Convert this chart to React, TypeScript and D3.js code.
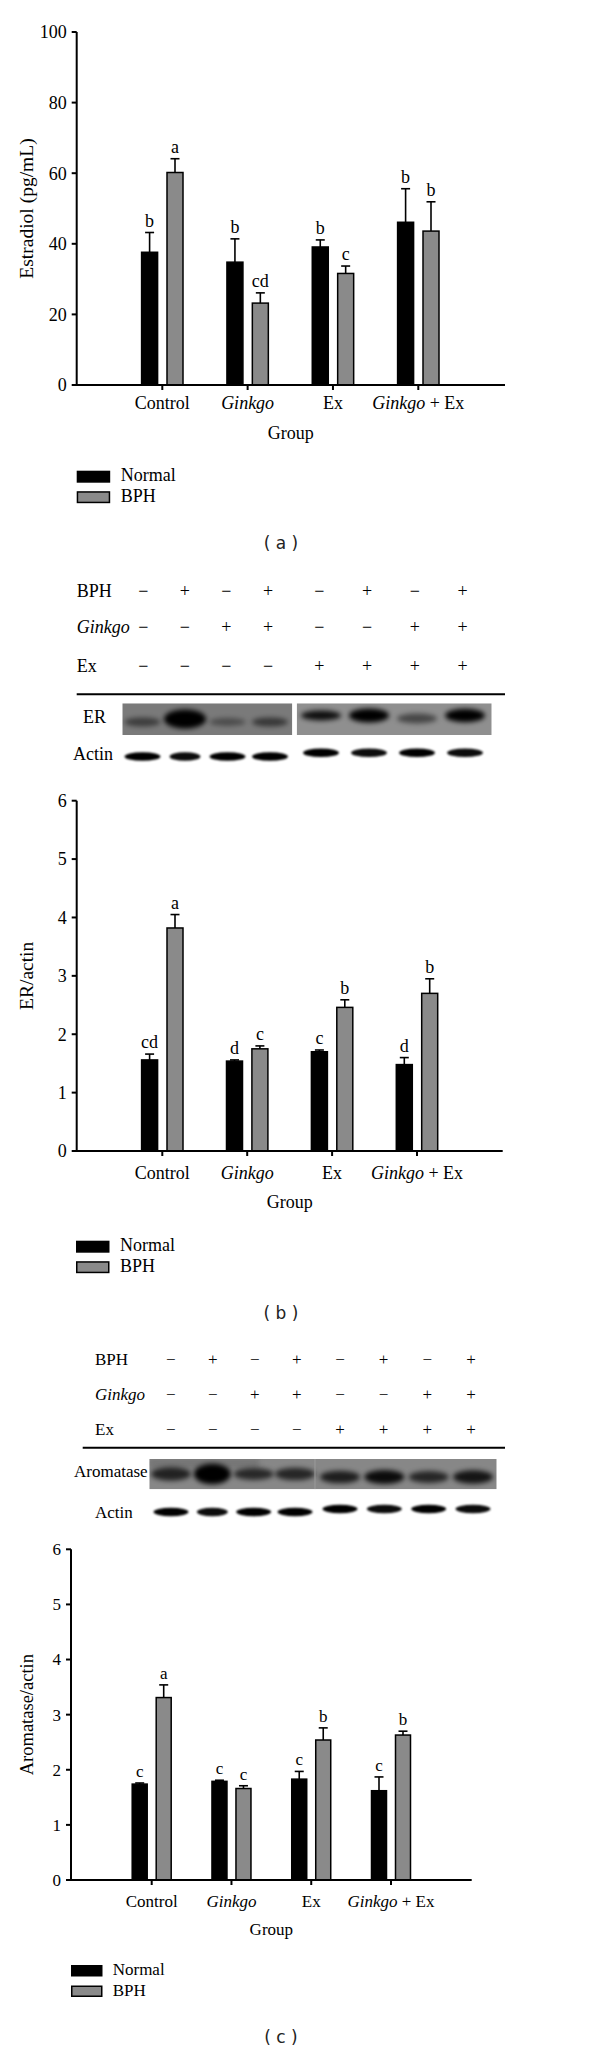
import React from "react";
import * as d3 from "d3";

const SERIF = "'Liberation Serif', 'Times New Roman', serif";
const SANS = "'DejaVu Sans', 'Noto Sans', sans-serif";

const groups = ["Control", "Ginkgo", "Ex", "Ginkgo + Ex"];
const seriesNames = ["Normal", "BPH"];

// Panel (a) Estradiol
const estradiolNormal = [37.6, 34.8, 39.1, 46.1];
const estradiolNormalSem = [5.6, 6.6, 2.0, 9.5];
const estradiolBph = [60.2, 23.2, 31.6, 43.6];
const estradiolBphSem = [3.9, 2.9, 2.1, 8.3];
const estradiolNormalLetters = ["b", "b", "b", "b"];
const estradiolBphLetters = ["a", "cd", "c", "b"];
const estradiolTicks = [0, 20, 40, 60, 80, 100];

// Panel (b) ER/actin
const erNormal = [1.56, 1.54, 1.7, 1.48];
const erNormalSem = [0.1, 0.02, 0.03, 0.12];
const erBph = [3.82, 1.75, 2.46, 2.7];
const erBphSem = [0.23, 0.05, 0.13, 0.25];
const erNormalLetters = ["cd", "d", "c", "d"];
const erBphLetters = ["a", "c", "b", "b"];
const ratioTicks = [0, 1, 2, 3, 4, 5, 6];

// Panel (c) Aromatase/actin
const aroNormal = [1.74, 1.79, 1.83, 1.62];
const aroNormalSem = [0.02, 0.02, 0.14, 0.25];
const aroBph = [3.31, 1.66, 2.54, 2.63];
const aroBphSem = [0.23, 0.05, 0.22, 0.07];
const aroNormalLetters = ["c", "c", "c", "c"];
const aroBphLetters = ["a", "c", "b", "b"];

// Treatment table rows
const bphRow = ["−", "+", "−", "+", "−", "+", "−", "+"];
const ginkgoRow = ["−", "−", "+", "+", "−", "−", "+", "+"];
const exRow = ["−", "−", "−", "−", "+", "+", "+", "+"];

// Blot band intensities (0..1)
const erIntensity = [0.5, 1, 0.38, 0.55, 0.9, 1, 0.5, 1];
const erBandSize = [0.75, 1.6, 0.65, 0.75, 0.7, 1.0, 0.7, 0.95];
const actinBIntensity = [1, 0.95, 1, 1, 1, 0.95, 1, 0.95];
const aroIntensity = [0.75, 1, 0.7, 0.72, 0.78, 0.92, 0.72, 0.85];
const aroBandSize = [0.95, 1.45, 0.85, 0.9, 0.9, 1.0, 0.85, 0.95];
const actinCIntensity = [1, 0.95, 1, 1, 1, 0.95, 1, 0.95];

type Cfg = {
  axisX: number; yTop: number; y0: number; max: number; xEnd: number;
  c0: number; c1: number; barW: number; off: number; fs: number;
  labelY: number; groupY: number; legendY: number; legendX: number;
  swW: number; swH: number; legendTextX: number; title: string;
};

function GroupLabel({ name, x, y, fs }: { name: string; x: number; y: number; fs: number }) {
  if (name === "Ginkgo") {
    return <text x={x} y={y} textAnchor="middle" fontFamily={SERIF} fontSize={fs} fontStyle="italic">Ginkgo</text>;
  }
  if (name === "Ginkgo + Ex") {
    return (
      <text x={x} y={y} textAnchor="middle" fontFamily={SERIF} fontSize={fs}>
        <tspan fontStyle="italic">Ginkgo</tspan>
        <tspan> + Ex</tspan>
      </text>
    );
  }
  return <text x={x} y={y} textAnchor="middle" fontFamily={SERIF} fontSize={fs}>{name}</text>;
}

function BarPanel(props: {
  cfg: Cfg; ticks: number[];
  normal: number[]; normalSem: number[]; bph: number[]; bphSem: number[];
  normalLetters: string[]; bphLetters: string[];
}) {
  const { cfg, ticks } = props;
  const y = d3.scaleLinear().domain([0, cfg.max]).range([cfg.y0, cfg.yTop]);
  const x = d3.scalePoint<string>().domain(groups).range([cfg.c0, cfg.c1]);
  const fs = cfg.fs;
  const sets = [
    { vals: props.normal, sem: props.normalSem, letters: props.normalLetters, dx: -cfg.off, fill: "#000" },
    { vals: props.bph, sem: props.bphSem, letters: props.bphLetters, dx: cfg.off, fill: "#8a8a8a" },
  ];
  const mid = (cfg.yTop + cfg.y0) / 2;
  return (
    <g>
      {sets.map((s, si) =>
        groups.map((g, i) => {
          const cx = (x(g) as number) + s.dx;
          const top = y(s.vals[i]);
          const et = y(s.vals[i] + s.sem[i]);
          return (
            <g key={`${si}-${g}`}>
              <line x1={cx} x2={cx} y1={top} y2={et} stroke="#000" strokeWidth={1.6} />
              <line x1={cx - 4.5} x2={cx + 4.5} y1={et} y2={et} stroke="#000" strokeWidth={1.6} />
              <rect x={cx - cfg.barW / 2} y={top} width={cfg.barW} height={cfg.y0 - top}
                fill={s.fill} stroke="#000" strokeWidth={1.5} />
              <text x={cx} y={et - 6} textAnchor="middle" fontFamily={SERIF} fontSize={fs}>{s.letters[i]}</text>
            </g>
          );
        })
      )}
      <line x1={cfg.axisX} x2={cfg.axisX} y1={cfg.yTop} y2={cfg.y0 + 1} stroke="#000" strokeWidth={2} />
      {ticks.map((t) => (
        <g key={t}>
          <line x1={cfg.axisX - 5} x2={cfg.axisX} y1={y(t)} y2={y(t)} stroke="#000" strokeWidth={2} />
          <text x={cfg.axisX - 10} y={y(t)} dy="0.35em" textAnchor="end" fontFamily={SERIF} fontSize={fs}>{t}</text>
        </g>
      ))}
      <line x1={cfg.axisX - 1} x2={cfg.xEnd} y1={cfg.y0} y2={cfg.y0} stroke="#000" strokeWidth={2} />
      {groups.map((g) => (
        <g key={g}>
          <line x1={x(g)} x2={x(g)} y1={cfg.y0} y2={cfg.y0 + 5} stroke="#000" strokeWidth={2} />
          <GroupLabel name={g} x={x(g) as number} y={cfg.labelY} fs={fs} />
        </g>
      ))}
      <text x={(cfg.axisX + cfg.xEnd) / 2} y={cfg.groupY} textAnchor="middle" fontFamily={SERIF} fontSize={fs}>Group</text>
      <text transform={`translate(33,${mid}) rotate(-90)`} textAnchor="middle" fontFamily={SERIF} fontSize={fs + 1.5}>{cfg.title}</text>
      {seriesNames.map((n, i) => (
        <g key={n}>
          <rect x={cfg.legendX + 0.75} y={cfg.legendY + i * 20.5 + 0.75} width={cfg.swW} height={cfg.swH}
            fill={sets[i].fill} stroke="#000" strokeWidth={1.5} />
          <text x={cfg.legendTextX} y={cfg.legendY + i * 20.5 + cfg.swH} fontFamily={SERIF} fontSize={fs}>{n}</text>
        </g>
      ))}
    </g>
  );
}

function TreatmentTable(props: { labelX: number; baselines: number[]; lanes: number[]; lineX0: number; lineX1: number; lineY: number; fs: number }) {
  const rows = [
    { label: "BPH", italic: false, vals: bphRow },
    { label: "Ginkgo", italic: true, vals: ginkgoRow },
    { label: "Ex", italic: false, vals: exRow },
  ];
  return (
    <g fontFamily={SERIF} fontSize={props.fs}>
      {rows.map((r, ri) => (
        <g key={r.label}>
          <text x={props.labelX} y={props.baselines[ri]} fontStyle={r.italic ? "italic" : "normal"}>{r.label}</text>
          {r.vals.map((v, i) => (
            <text key={i} x={props.lanes[i]} y={props.baselines[ri]} textAnchor="middle" fill="#000">{v}</text>
          ))}
        </g>
      ))}
      <line x1={props.lineX0} x2={props.lineX1} y1={props.lineY} y2={props.lineY} stroke="#000" strokeWidth={2} />
    </g>
  );
}

function lanePositions(l0: number, l1: number, r0: number, r1: number) {
  const left = d3.scalePoint<number>().domain([0, 1, 2, 3]).range([l0, l1]);
  const right = d3.scalePoint<number>().domain([4, 5, 6, 7]).range([r0, r1]);
  return d3.range(8).map((i) => (i < 4 ? (left(i) as number) : (right(i) as number)));
}

const lanesB = lanePositions(142.5, 270, 321, 465);
const lanesBTable = lanePositions(143.3, 268, 319.3, 462.7);
const lanesC = lanePositions(171, 295, 340, 473);
const lanesCTable = lanePositions(170.7, 296.7, 340, 471);

function App() {
  const cfgA: Cfg = {
    axisX: 76.7, yTop: 32, y0: 385, max: 100, xEnd: 505, c0: 162.3, c1: 418.3, barW: 16, off: 12.7, fs: 18,
    labelY: 409, groupY: 439, legendY: 470.7, legendX: 76.7, swW: 32, swH: 10.5, legendTextX: 120.7,
    title: "Estradiol (pg/mL)",
  };
  const cfgB: Cfg = {
    axisX: 76.7, yTop: 800.7, y0: 1151, max: 6, xEnd: 502.7, c0: 162.3, c1: 417, barW: 16, off: 12.7, fs: 18,
    labelY: 1179, groupY: 1208, legendY: 1240.7, legendX: 76, swW: 32, swH: 10.5, legendTextX: 120,
    title: "ER/actin",
  };
  const cfgC: Cfg = {
    axisX: 71, yTop: 1549.3, y0: 1880, max: 6, xEnd: 471.7, c0: 151.7, c1: 391, barW: 15, off: 12, fs: 17,
    labelY: 1907, groupY: 1935, legendY: 1965, legendX: 71, swW: 30, swH: 10, legendTextX: 112.7,
    title: "Aromatase/actin",
  };

  return (
    <svg width={600} height={2052} style={{ position: "absolute", left: 0, top: 0, background: "#fff" }}>
      <defs>
        <filter id="blurBig" x="-50%" y="-100%" width="200%" height="300%">
          <feGaussianBlur stdDeviation="2.6" />
        </filter>
        <filter id="blurSmall" x="-30%" y="-100%" width="160%" height="300%">
          <feGaussianBlur stdDeviation="1.1" />
        </filter>
        <clipPath id="erLeft"><rect x={122.3} y={703.3} width={170} height={31.7} /></clipPath>
        <clipPath id="erRight"><rect x={296.7} y={703.3} width={195} height={31.7} /></clipPath>
        <clipPath id="aroClip"><rect x={149.3} y={1459} width={347.4} height={30.3} /></clipPath>
      </defs>
      <rect x={0} y={0} width={600} height={2052} fill="#fff" />

      {/* Panel (a) */}
      <BarPanel cfg={cfgA} ticks={estradiolTicks}
        normal={estradiolNormal} normalSem={estradiolNormalSem}
        bph={estradiolBph} bphSem={estradiolBphSem}
        normalLetters={estradiolNormalLetters} bphLetters={estradiolBphLetters} />
      <text x={281} y={549} textAnchor="middle" fontFamily={SANS} fontSize={17} fill="#222">( a )</text>

      {/* Panel (b) table + blots */}
      <TreatmentTable labelX={76.7} baselines={[596.7, 633.3, 671.7]} lanes={lanesBTable}
        lineX0={76.7} lineX1={505} lineY={694.3} fs={18} />
      <text x={83} y={722.7} fontFamily={SERIF} fontSize={18}>ER</text>
      <text x={73} y={760} fontFamily={SERIF} fontSize={18}>Actin</text>
      <g clipPath="url(#erLeft)">
        <rect x={122.3} y={703.3} width={170} height={31.7} fill="#7a7a7a" />
        {lanesB.slice(0, 4).map((lx, i) => (
          <ellipse key={i} cx={lx} cy={i === 1 ? 719 : 722} rx={18 + (erBandSize[i] > 1 ? 3 : 0)}
            ry={6 * erBandSize[i]} fill="#000" opacity={erIntensity[i]} filter="url(#blurBig)" />
        ))}
      </g>
      <g clipPath="url(#erRight)">
        <rect x={296.7} y={703.3} width={195} height={31.7} fill="#8f8f8f" />
        {lanesB.slice(4).map((lx, j) => {
          const i = j + 4;
          return (
            <ellipse key={i} cx={lx} cy={i === 6 ? 718.5 : 715.5} rx={20}
              ry={7 * erBandSize[i]} fill="#000" opacity={erIntensity[i]} filter="url(#blurBig)" />
          );
        })}
      </g>
      {lanesB.map((lx, i) => (
        <ellipse key={i} cx={lx} cy={i < 4 ? 756.5 : 752.8} rx={i === 1 ? 15.5 : 18} ry={4.3}
          fill="#000" opacity={actinBIntensity[i]} filter="url(#blurSmall)" />
      ))}

      {/* Panel (b) chart */}
      <BarPanel cfg={cfgB} ticks={ratioTicks}
        normal={erNormal} normalSem={erNormalSem} bph={erBph} bphSem={erBphSem}
        normalLetters={erNormalLetters} bphLetters={erBphLetters} />
      <text x={281} y={1319} textAnchor="middle" fontFamily={SANS} fontSize={17} fill="#222">( b )</text>

      {/* Panel (c) table + blots */}
      <TreatmentTable labelX={95} baselines={[1365, 1400, 1435]} lanes={lanesCTable}
        lineX0={82.7} lineX1={505} lineY={1447.7} fs={17} />
      <text x={74} y={1476.7} fontFamily={SERIF} fontSize={17}>Aromatase</text>
      <text x={95} y={1517.7} fontFamily={SERIF} fontSize={17}>Actin</text>
      <g clipPath="url(#aroClip)">
        <rect x={149.3} y={1459} width={347.4} height={30.3} fill="#878787" />
        <rect x={149.3} y={1459} width={110} height={9} fill="#555" opacity={0.35} filter="url(#blurBig)" />
        {lanesC.map((lx, i) => (
          <ellipse key={i} cx={lx} cy={i < 4 ? 1474 : 1477} rx={i === 1 ? 18.5 : 20}
            ry={7 * aroBandSize[i]} fill="#000" opacity={aroIntensity[i]} filter="url(#blurBig)" />
        ))}
        <line x1={315} x2={315} y1={1459} y2={1489.3} stroke="#9a9a9a" strokeWidth={1} />
      </g>
      {lanesC.map((lx, i) => (
        <ellipse key={i} cx={lx} cy={i < 4 ? 1512 : 1509} rx={i === 1 ? 15.5 : 17.5} ry={4.2}
          fill="#000" opacity={actinCIntensity[i]} filter="url(#blurSmall)" />
      ))}

      {/* Panel (c) chart */}
      <BarPanel cfg={cfgC} ticks={ratioTicks}
        normal={aroNormal} normalSem={aroNormalSem} bph={aroBph} bphSem={aroBphSem}
        normalLetters={aroNormalLetters} bphLetters={aroBphLetters} />
      <text x={281} y={2043} textAnchor="middle" fontFamily={SANS} fontSize={17} fill="#222">( c )</text>
    </svg>
  );
}

export default App;
